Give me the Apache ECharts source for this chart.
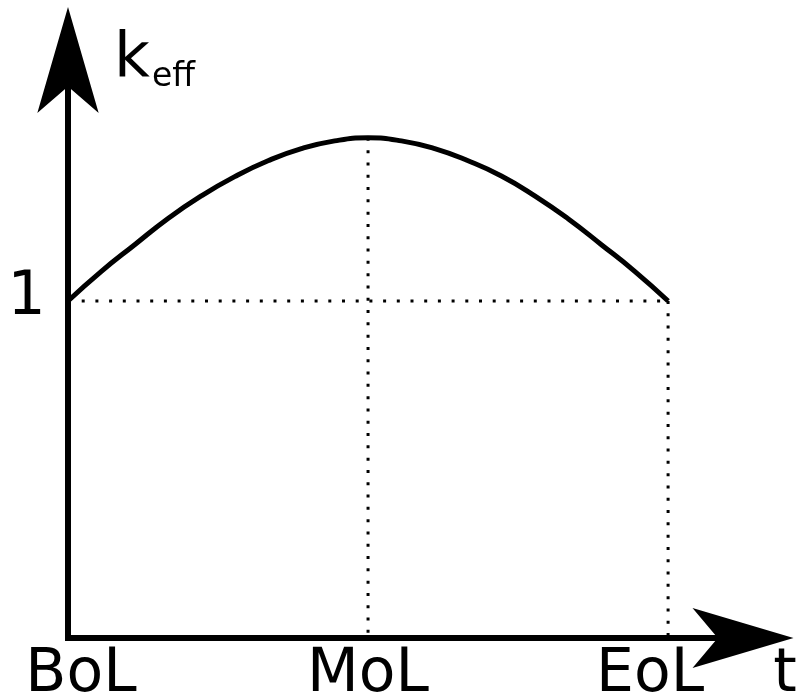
<!DOCTYPE html>
<html>
<head>
<meta charset="utf-8">
<script src="https://cdn.jsdelivr.net/npm/echarts@6/dist/echarts.min.js"></script>
<style>
html, body { margin: 0; padding: 0; background: #fff; }
#chart { width: 797px; height: 699px; }
</style>
</head>
<body>
<div id="chart"></div>
<script>
// time points on the x axis (BoL = 0, EoL = 1)
var timeLabels = ['BoL', 'MoL', 'EoL'];
var timeAt = [0, 0.5, 1];
var kLevel = 1;
var kLevelLabel = '1';
var xName = 't';

// keff over the cycle
var curveT = [0, 0.0556, 0.1111, 0.1667, 0.2222, 0.2778, 0.3333, 0.3889, 0.4444, 0.5,
              0.5556, 0.6111, 0.6667, 0.7222, 0.7778, 0.8333, 0.8889, 0.9444, 1];
var curveK = [1, 1.088, 1.167, 1.245, 1.312, 1.369, 1.416, 1.452, 1.475, 1.484,
              1.475, 1.452, 1.416, 1.371, 1.312, 1.244, 1.167, 1.088, 1];

var chart = echarts.init(document.getElementById('chart'));
var curve = curveT.map(function (t, i) { return [t, curveK[i]]; });
var peak = curveK[curveT.indexOf(timeAt[1])];
var black = '#000';
var fontFam = '"DejaVu Sans", sans-serif';

function dotted(data, dash) {
    return {
        type: 'line',
        data: data,
        symbol: 'none',
        silent: true,
        z: 1,
        lineStyle: { color: black, width: 3, type: dash }
    };
}

function axisBits(arrowSize, arrowOffset) {
    return {
        axisLine: {
            show: true,
            symbol: ['none', 'arrow'],
            symbolSize: arrowSize,
            symbolOffset: [0, arrowOffset],
            lineStyle: { color: black, width: 6, cap: 'square' }
        },
        axisTick: { show: false },
        axisLabel: { show: false },
        splitLine: { show: false }
    };
}

var xAxis = axisBits([45, 101], 51);
xAxis.type = 'value';
xAxis.min = 0;
xAxis.max = 1.124;
var yAxis = axisBits([46, 106], 53);
yAxis.type = 'value';
yAxis.min = 0;
yAxis.max = 1.715;

chart.setOption({
    animation: false,
    grid: { left: 68, right: 54.5, top: 60, bottom: 61 },
    xAxis: xAxis,
    yAxis: yAxis,
    series: [
        dotted([[timeAt[0], kLevel], [timeAt[2], kLevel]], [3, 10.7]),
        dotted([[timeAt[1], peak], [timeAt[1], 0]], [3, 9.3]),
        dotted([[timeAt[2], kLevel], [timeAt[2], 0]], [3, 9.3]),
        {
            type: 'line',
            data: curve,
            smooth: 0.5,
            symbol: 'none',
            z: 3,
            lineStyle: { color: black, width: 5 }
        }
    ]
});

// texts placed from the axis scales
function px(t, k) { return chart.convertToPixel({ gridIndex: 0 }, [t, k]); }
var labelShift = [13, 0, -18];
var big = '60px ' + fontFam;
var texts = timeLabels.map(function (name, i) {
    return {
        type: 'text',
        x: px(timeAt[i], 0)[0] + labelShift[i],
        y: 675,
        style: { text: name, font: big, fill: black, align: 'center', verticalAlign: 'middle' }
    };
});
texts.push({
    type: 'text', x: 785, y: 675,
    style: { text: xName, font: big, fill: black, align: 'center', verticalAlign: 'middle' }
});
texts.push({
    type: 'text', x: 26.5, y: px(0, kLevel)[1] - 3,
    style: { text: kLevelLabel, font: big, fill: black, align: 'center', verticalAlign: 'middle' }
});
texts.push({
    type: 'text', x: 114, y: 60,
    style: { text: 'k', font: '62px ' + fontFam, fill: black, align: 'left', verticalAlign: 'middle' }
});
texts.push({
    type: 'text', x: 152, y: 77,
    style: { text: 'eff', font: '33px ' + fontFam, fill: black, align: 'left', verticalAlign: 'middle' }
});
chart.setOption({ graphic: texts });
</script>
</body>
</html>
